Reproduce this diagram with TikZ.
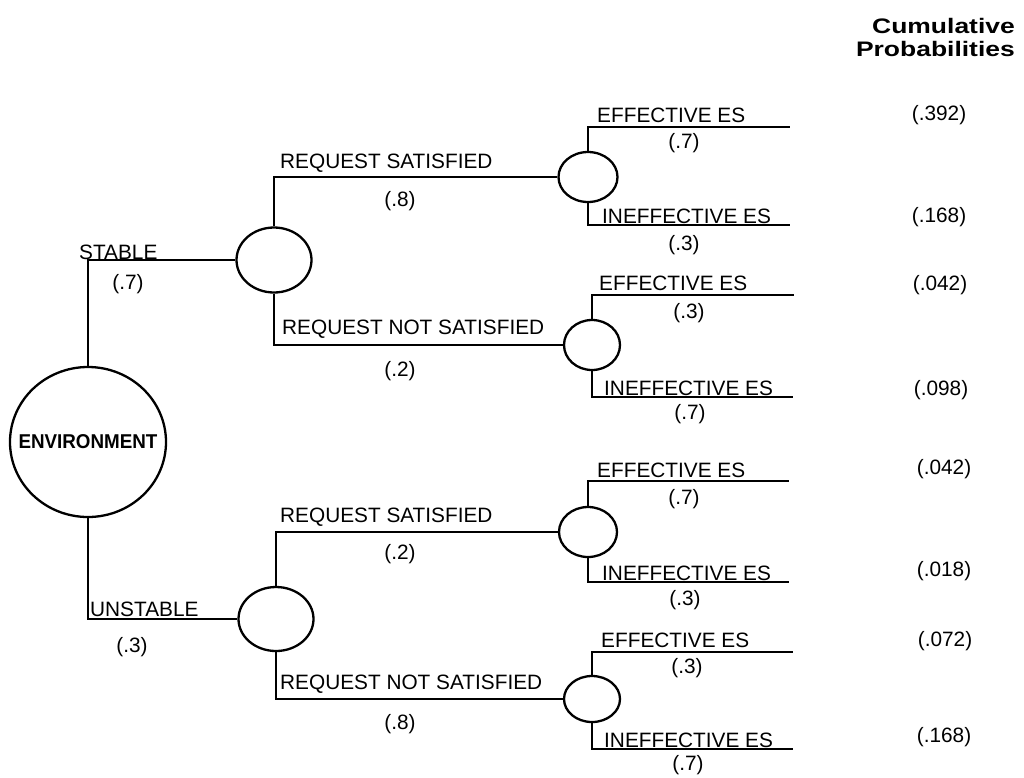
\documentclass[tikz,border=0pt]{standalone}
\usepackage{fontspec}
\setmainfont{Liberation Sans}
\newfontfamily\envfont[FakeStretch=0.94]{Liberation Sans}
\newfontfamily\headfont[FakeStretch=1.26]{Liberation Sans}
\usetikzlibrary{shapes.geometric}
\begin{document}
\begin{tikzpicture}[x=1pt,y=-1pt,
  branch/.style={line width=2.3pt},
  chance/.style={draw, ellipse, line width=2.3pt, inner sep=0pt},
  lbl/.style={font=\fontsize{20.8}{24}\selectfont, inner sep=0pt},
  tag/.style={lbl, anchor=base west},
  prob/.style={lbl, anchor=center},
  cum/.style={lbl, anchor=center}]
\useasboundingbox (0,0) rectangle (1024,777);

% column header
\node[font=\headfont\bfseries\fontsize{21}{23}\selectfont, align=right, inner sep=0pt, anchor=east]
  (head) at (1015,37) {Cumulative\\Probabilities};

% decision root
\node[chance, minimum width=156pt, minimum height=150pt] (env) at (88,442) {};
\node[font=\envfont\bfseries\fontsize{20}{24}\selectfont, inner sep=0pt] (envtxt) at (env) {ENVIRONMENT};

% chance nodes
\node[chance, minimum width=75pt, minimum height=65pt] (a) at (274,260) {};
\node[chance, minimum width=75pt, minimum height=64pt] (d) at (276,619) {};
\node[chance, minimum width=59pt, minimum height=50pt] (b1) at (588,177) {};
\node[chance, minimum width=56pt, minimum height=50pt] (b2) at (592,345) {};
\node[chance, minimum width=58pt, minimum height=50pt] (c1) at (588,532) {};
\node[chance, minimum width=56pt, minimum height=46pt] (c2) at (592,699) {};

% first level branches
\draw[branch] (env.north) |- (a.west);
\draw[branch] (env.south) |- (d.west);
\node[tag] (stable) at (79,259) {STABLE};
\node[prob] (pstable) at (128,284) {(.7)};
\node[tag] (unstable) at (90,616) {UNSTABLE};
\node[prob] (punstable) at (132,647) {(.3)};

% second level branches
\draw[branch] (a.north) |- (b1.west);
\draw[branch] (a.south) |- (b2.west);
\draw[branch] (d.north) |- (c1.west);
\draw[branch] (d.south) |- (c2.west);
\node[tag] (rs1) at (280,168) {REQUEST SATISFIED};
\node[prob] (prs1) at (400,201) {(.8)};
\node[tag] (rn1) at (282,334) {REQUEST NOT SATISFIED};
\node[prob] (prn1) at (400,371) {(.2)};
\node[tag] (rs2) at (280,522) {REQUEST SATISFIED};
\node[prob] (prs2) at (400,554) {(.2)};
\node[tag] (rn2) at (280,689) {REQUEST NOT SATISFIED};
\node[prob] (prn2) at (400,724) {(.8)};

% outcome branches
\coordinate (o1) at (790,127);
\coordinate (o2) at (790,225);
\coordinate (o3) at (794,295);
\coordinate (o4) at (793,397);
\coordinate (o5) at (789,481);
\coordinate (o6) at (789,582);
\coordinate (o7) at (793,652);
\coordinate (o8) at (793,749);
\draw[branch] (b1.north) |- (o1);
\draw[branch] (b1.south) |- (o2);
\draw[branch] (b2.north) |- (o3);
\draw[branch] (b2.south) |- (o4);
\draw[branch] (c1.north) |- (o5);
\draw[branch] (c1.south) |- (o6);
\draw[branch] (c2.north) |- (o7);
\draw[branch] (c2.south) |- (o8);

\node[tag] (t1) at (597,122) {EFFECTIVE ES};
\node[tag] (t2) at (602,223) {INEFFECTIVE ES};
\node[tag] (t3) at (599,290) {EFFECTIVE ES};
\node[tag] (t4) at (604,395) {INEFFECTIVE ES};
\node[tag] (t5) at (597,477) {EFFECTIVE ES};
\node[tag] (t6) at (602,580) {INEFFECTIVE ES};
\node[tag] (t7) at (601,647) {EFFECTIVE ES};
\node[tag] (t8) at (604,747) {INEFFECTIVE ES};

\node[prob] (p1) at (684,143) {(.7)};
\node[prob] (p2) at (684,245) {(.3)};
\node[prob] (p3) at (689,313) {(.3)};
\node[prob] (p4) at (690,414) {(.7)};
\node[prob] (p5) at (684,499) {(.7)};
\node[prob] (p6) at (685,600) {(.3)};
\node[prob] (p7) at (687,668) {(.3)};
\node[prob] (p8) at (688,765) {(.7)};

% cumulative probabilities
\node[cum] (c1v) at (939,115) {(.392)};
\node[cum] (c2v) at (939,217) {(.168)};
\node[cum] (c3v) at (940,285) {(.042)};
\node[cum] (c4v) at (941,390) {(.098)};
\node[cum] (c5v) at (944,469) {(.042)};
\node[cum] (c6v) at (944,571) {(.018)};
\node[cum] (c7v) at (945,641) {(.072)};
\node[cum] (c8v) at (944,737) {(.168)};
\end{tikzpicture}
\end{document}
